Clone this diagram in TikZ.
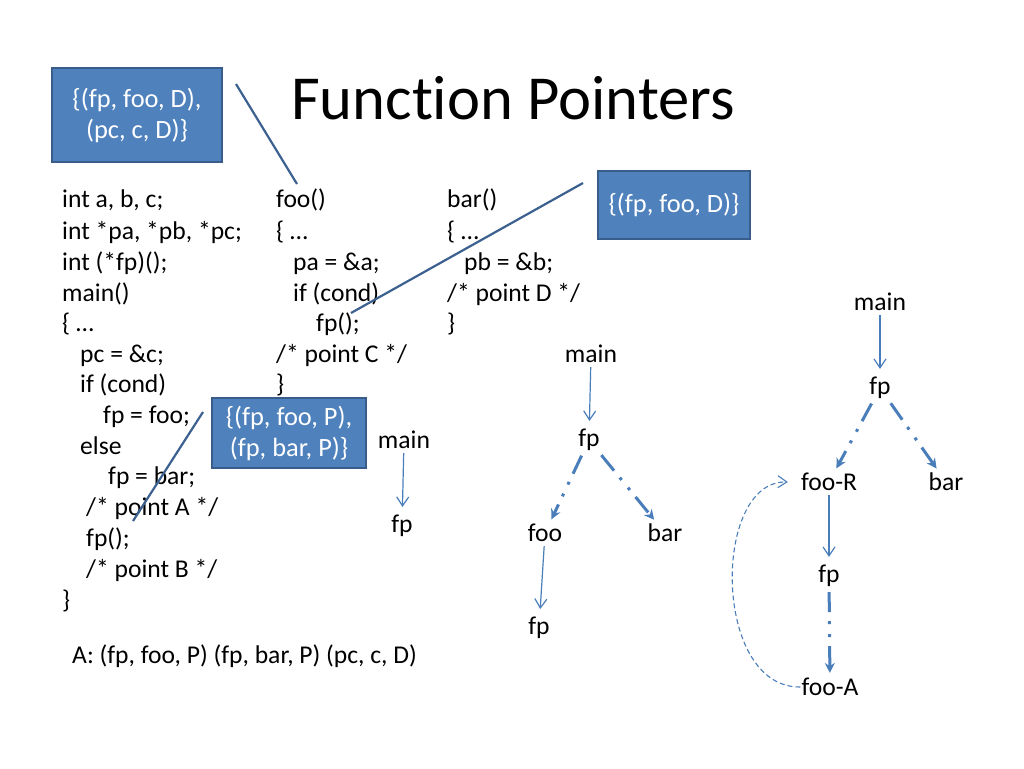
\documentclass[tikz,border=0pt]{standalone}
\usepackage{fontspec}
\setmainfont{Carlito}[Ligatures=NoCommon]
\usetikzlibrary{arrows.meta}
\definecolor{boxfill}{HTML}{4F81BD}
\definecolor{boxline}{HTML}{385D8A}
\definecolor{arr}{HTML}{4A7EBB}
\definecolor{conn}{HTML}{3C6190}
\tikzset{
  code/.style={anchor=base west, inner sep=0pt, font=\fontsize{25.6}{30}\selectfont},
  lbl/.style={inner sep=1pt, font=\fontsize{25.6}{30}\selectfont},
  setbox/.style={draw=boxline, line width=1.5pt, fill=boxfill, text=white, align=center,
     font=\fontsize{26.4}{31}\selectfont, inner sep=0pt},
  connline/.style={draw=conn, line width=2.2pt},
  callarrow/.style={draw=arr, line width=1.2pt, shorten <=3pt, shorten >=7pt, -{Straight Barb[length=9pt,width=12pt]}},
  ptarrow/.style={draw=arr, line width=3pt, shorten <=4pt, shorten >=4pt, dash pattern=on 20pt off 9pt on 3pt off 10pt on 3pt off 9pt,
     -{Stealth[length=10pt,width=10pt]}},
  backarrow/.style={draw=arr, line width=1.1pt, dash pattern=on 5pt off 3pt, -{Straight Barb[length=9pt,width=12pt]}}
}
\begin{document}
\begin{tikzpicture}[x=1pt,y=-1pt]
\useasboundingbox[fill=white] (0,0) rectangle (1024,768);
% title
\node[inner sep=0pt, font=\fontsize{62.6}{70}\selectfont] (title) at (513,98) {Function Pointers};
% column 1
\node[code] (l1) at (62,207) {int a, b, c;};
\node[code] (l2) at (62,239) {int *pa, *pb, *pc;};
\node[code] (l3) at (62,270) {int (*fp)();};
\node[code] (l4) at (62,301) {main()};
\node[code] (l5) at (62,331) {\{ …};
\node[code] (l6) at (80,362) {pc = \&c;};
\node[code] (l7) at (80,392) {if (cond)};
\node[code] (l8) at (103,423) {fp = foo;};
\node[code] (l9) at (80,454) {else};
\node[code] (l10) at (108,484) {fp = bar;};
\node[code] (l11) at (86,515) {/* point A */};
\node[code] (l12) at (86,546) {fp();};
\node[code] (l13) at (86,577) {/* point B */};
\node[code] (l14) at (62,608) {\}};
% column 2
\node[code] (f1) at (276,207) {foo()};
\node[code] (f2) at (276,239) {\{ …};
\node[code] (f3) at (293,270) {pa = \&a;};
\node[code] (f4) at (293,301) {if (cond)};
\node[code] (f5) at (316,331) {fp();};
\node[code] (f6) at (276,362) {/* point C */};
\node[code] (f7) at (276,392) {\}};
% column 3
\node[code] (b1) at (447,207) {bar()};
\node[code] (b2) at (447,239) {\{ …};
\node[code] (b3) at (464,270) {pb = \&b;};
\node[code] (b4) at (447,301) {/* point D */};
\node[code] (b5) at (447,331) {\}};
% bottom line
\node[code] (sum) at (72,663) {A: (fp, foo, P) (fp, bar, P) (pc, c, D)};
% boxes
\node[setbox, minimum width=170pt, minimum height=94pt] (box1) at (137,115) {\{(fp, foo, D),\\(pc, c, D)\}};
\node[setbox, minimum width=152pt, minimum height=68pt] (box2) at (674,205) {\{(fp, foo, D)\}};
\node[setbox, minimum width=154pt, minimum height=70pt] (box3) at (289,433) {\{(fp, foo, P),\\(fp, bar, P)\}};
% connector lines
\coordinate (c1a) at (236,84);
\coordinate (c1b) at (297,184);
\coordinate (c2a) at (583,183);
\coordinate (c2b) at (351,313);
\coordinate (c3a) at (203,412);
\coordinate (c3b) at (133,521);
\draw[connline] (c1a) -- (c1b);
\draw[connline] (c2a) -- (c2b);
\draw[connline] (c3a) -- (c3b);
% tree 1
\node[lbl] (t1main) at (404,440) {main};
\node[lbl] (t1fp) at (402,526) {fp};
\draw[callarrow] (t1main) -- (t1fp);
% tree 2
\node[lbl] (t2main) at (591,354) {main};
\node[lbl] (t2fp) at (589,440) {fp};
\node[lbl] (t2foo) at (545,533) {foo};
\node[lbl] (t2bar) at (665,533) {bar};
\node[lbl] (t2fp2) at (539,628) {fp};
\draw[callarrow] (t2main) -- (t2fp);
\draw[ptarrow] (t2fp) -- (t2foo);
\draw[ptarrow] (t2fp) -- (t2bar);
\draw[callarrow] (t2foo) -- (t2fp2);
% tree 3
\node[lbl] (t3main) at (880,302) {main};
\node[lbl] (t3fp) at (880,388) {fp};
\node[lbl] (t3fooR) at (829,482) {foo-R};
\node[lbl] (t3bar) at (946,482) {bar};
\node[lbl] (t3fp2) at (829,576) {fp};
\node[lbl] (t3fooA) at (830,687) {foo-A};
\draw[callarrow] (t3main) -- (t3fp);
\draw[ptarrow] (t3fp) -- (t3fooR);
\draw[ptarrow] (t3fp) -- (t3bar);
\draw[callarrow] (t3fooR) -- (t3fp2);
\draw[ptarrow] (t3fp2) -- (t3fooA);
\draw[backarrow] (t3fooA.west) .. controls (712,688) and (712,480) .. ([xshift=-12pt]t3fooR.west);
\end{tikzpicture}
\end{document}
